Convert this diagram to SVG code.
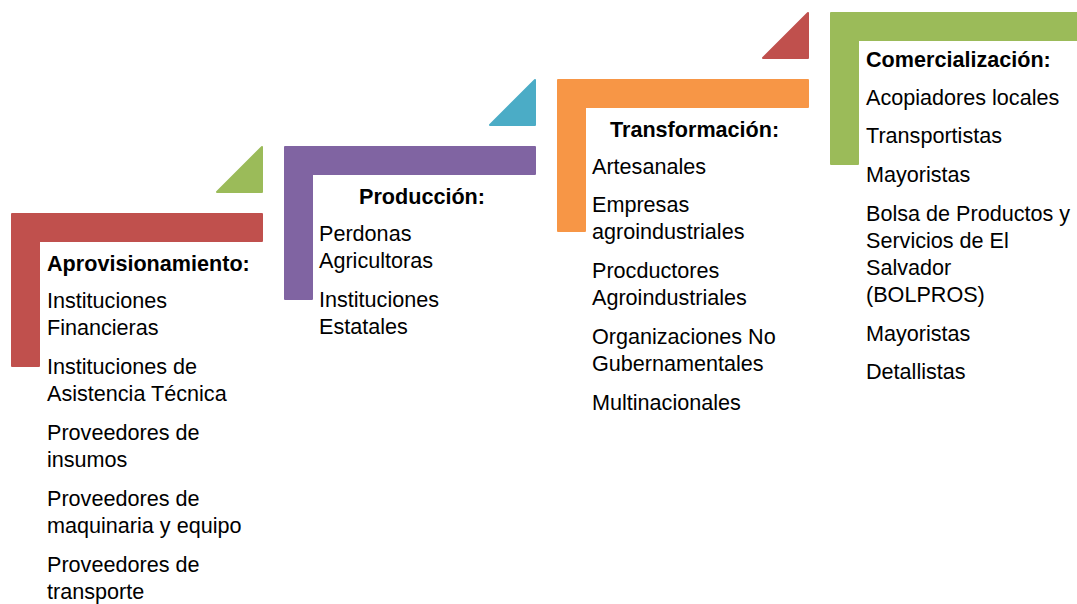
<svg xmlns="http://www.w3.org/2000/svg" width="1077" height="604" viewBox="0 0 1077 604">
  <style>
    .t { font-family: "Liberation Sans", Arial, sans-serif; font-size: 21.6px; fill: #000; }
    .h { font-weight: bold; }
    .shape { stroke-width: 2; stroke-linejoin: round; }
    .red { fill: #C0504D; stroke: #C0504D; }
    .purple { fill: #8064A2; stroke: #8064A2; }
    .orange { fill: #F79646; stroke: #F79646; }
    .green { fill: #9BBB59; stroke: #9BBB59; }
    .blue { fill: #4BACC6; stroke: #4BACC6; }
  </style>
  <rect width="1077" height="604" fill="#fff"/>

  <g id="connectors">
    <path class="shape green" d="M217,192 L262,147 L262,192 Z"/>
    <path class="shape blue" d="M490,125 L535,80 L535,125 Z"/>
    <path class="shape red" d="M763,58 L808,13 L808,58 Z"/>
  </g>

  <g id="aprovisionamiento">
    <path class="shape red" d="M12,214 H262 V241 H39 V366 H12 Z"/>
    <text class="t h" x="47" y="271">Aprovisionamiento:</text>
    <text class="t" x="47" y="308">Instituciones</text>
    <text class="t" x="47" y="335">Financieras</text>
    <text class="t" x="47" y="374">Instituciones de</text>
    <text class="t" x="47" y="401">Asistencia Técnica</text>
    <text class="t" x="47" y="440">Proveedores de</text>
    <text class="t" x="47" y="467">insumos</text>
    <text class="t" x="47" y="506">Proveedores de</text>
    <text class="t" x="47" y="533">maquinaria y equipo</text>
    <text class="t" x="47" y="572">Proveedores de</text>
    <text class="t" x="47" y="599">transporte</text>
  </g>

  <g id="produccion">
    <path class="shape purple" d="M285,147 H535 V174 H312 V299 H285 Z"/>
    <text class="t h" x="359" y="204">Producción:</text>
    <text class="t" x="319" y="241">Perdonas</text>
    <text class="t" x="319" y="268">Agricultoras</text>
    <text class="t" x="319" y="307">Instituciones</text>
    <text class="t" x="319" y="334">Estatales</text>
  </g>

  <g id="transformacion">
    <path class="shape orange" d="M558,80 H808 V107 H585 V231 H558 Z"/>
    <text class="t h" x="610" y="137">Transformación:</text>
    <text class="t" x="592" y="174">Artesanales</text>
    <text class="t" x="592" y="212">Empresas</text>
    <text class="t" x="592" y="239">agroindustriales</text>
    <text class="t" x="592" y="278">Procductores</text>
    <text class="t" x="592" y="305">Agroindustriales</text>
    <text class="t" x="592" y="344">Organizaciones No</text>
    <text class="t" x="592" y="371">Gubernamentales</text>
    <text class="t" x="592" y="410">Multinacionales</text>
  </g>

  <g id="comercializacion">
    <path class="shape green" d="M831,13 H1085 V40 H858 V164 H831 Z"/>
    <text class="t h" x="866" y="67">Comercialización:</text>
    <text class="t" x="866" y="105">Acopiadores locales</text>
    <text class="t" x="866" y="143">Transportistas</text>
    <text class="t" x="866" y="182">Mayoristas</text>
    <text class="t" x="866" y="221">Bolsa de Productos y</text>
    <text class="t" x="866" y="248">Servicios de El</text>
    <text class="t" x="866" y="275">Salvador</text>
    <text class="t" x="866" y="302">(BOLPROS)</text>
    <text class="t" x="866" y="341">Mayoristas</text>
    <text class="t" x="866" y="379">Detallistas</text>
  </g>
</svg>
